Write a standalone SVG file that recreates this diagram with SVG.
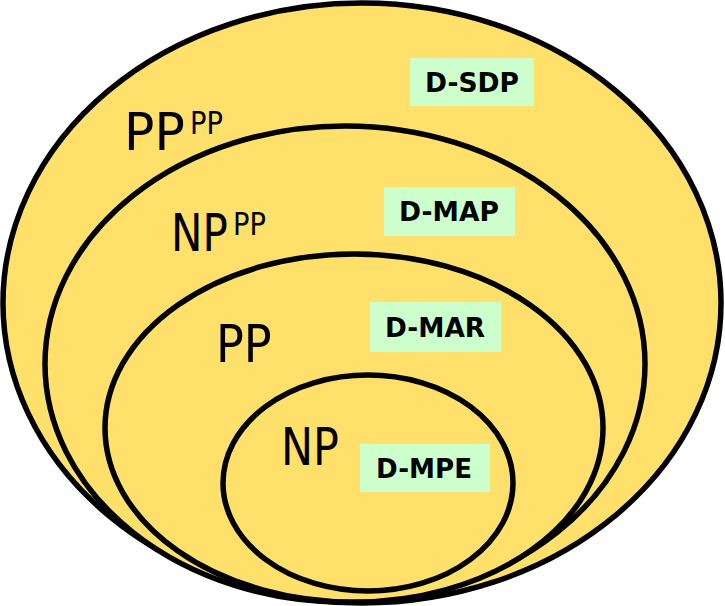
<svg xmlns="http://www.w3.org/2000/svg" width="725" height="606" viewBox="0 0 725 606">
<style>
.e{fill:#FFE06B;stroke:#000;stroke-width:5.5}
.b{fill:#CCFFCC}
.t{font-family:"DejaVu Sans",sans-serif;font-weight:bold;font-size:26px;fill:#000;text-anchor:middle}
.c{font-family:"DejaVu Sans",sans-serif;font-size:42px;fill:#000}
.s{font-size:26px}
</style>
<rect width="725" height="606" fill="#fff"/>
<g id="ppp">
<ellipse class="e" cx="362" cy="303" rx="359" ry="300"/>
<text class="c" transform="translate(124,150) scale(1.2,1.24)">PP</text><text class="c s" transform="translate(190,134) scale(1.05,1.24)">PP</text>
<rect class="b" x="410" y="58" width="124" height="48"/><text class="t" x="472" y="92" textLength="94" lengthAdjust="spacingAndGlyphs">D-SDP</text>
</g>
<g id="nppp">
<ellipse class="e" cx="345" cy="364" rx="300" ry="238"/>
<text class="c" transform="translate(171,251) scale(1,1.24)">NP</text><text class="c s" transform="translate(233,235) scale(1.05,1.24)">PP</text>
<rect class="b" x="384" y="187" width="131" height="49"/><text class="t" x="449" y="221" textLength="100" lengthAdjust="spacingAndGlyphs">D-MAP</text>
</g>
<g id="pp">
<ellipse class="e" cx="354" cy="428" rx="249" ry="174"/>
<text class="c" transform="translate(216,362) scale(1.1,1.24)">PP</text>
<rect class="b" x="370" y="302" width="131" height="50"/><text class="t" x="435" y="337" textLength="100" lengthAdjust="spacingAndGlyphs">D-MAR</text>
</g>
<g id="np">
<ellipse class="e" cx="368" cy="483" rx="145" ry="108"/>
<text class="c" transform="translate(281,465) scale(1.02,1.24)">NP</text>
<rect class="b" x="360" y="444" width="130" height="48"/><text class="t" x="424" y="478" textLength="96" lengthAdjust="spacingAndGlyphs">D-MPE</text>
</g>
<g id="connectors"/>
</svg>
